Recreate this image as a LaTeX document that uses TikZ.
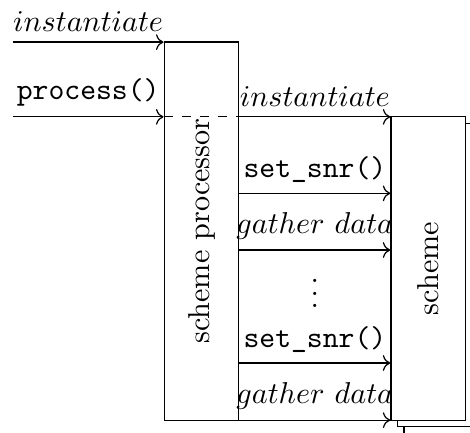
\documentclass[tikz,border=0pt]{standalone}
\usepackage{amsmath,amssymb}
\usetikzlibrary{positioning,shadows,arrows.meta}

\tikzset{
  lifebox/.style={draw, fill=white, inner sep=0pt, minimum width=0.87cm},
  msg/.style={->},
}

\begin{document}
\begin{tikzpicture}
	\useasboundingbox (0,0) rectangle (5.47,-5.03);

	\node[lifebox, minimum height=4.4cm, label={[rotate=90]center:scheme processor}] (proc) at (2.345,-2.69) {};
	\node[lifebox, double copy shadow={shadow xshift=0.5ex, shadow yshift=-0.5ex}, minimum height=3.53cm, label={[rotate=90]center:scheme}] (scheme) at (4.985,-3.125) {};

	% calls into the processor
	\coordinate (in0) at (0.15,-0.49);
	\coordinate (in1) at (0.15,-1.36);
	\draw[msg] (in0) -- (in0 -| proc.west) node[midway,above] {$instantiate$};
	\draw[msg] (in1) -- (in1 -| proc.west) node[midway,above] {\texttt{process()}};
	\draw[dashed] (in1 -| proc.west) -- (in1 -| proc.east);

	% processor -> scheme
	\foreach \y/\txt in {-1.36/{$instantiate$}, -2.25/{\texttt{set\_snr()}}, -2.91/{$gather\ data$}, -4.225/{\texttt{set\_snr()}}, -4.89/{$gather\ data$}}
	{
	  \coordinate (m) at (0,\y);
	  \draw[msg] (m -| proc.east) -- (m -| scheme.west) node[midway,above] {\txt};
	}
	\node[inner sep=0pt] (dots) at (3.665,-3.31) {$\vdots$};
\end{tikzpicture}
\end{document}
